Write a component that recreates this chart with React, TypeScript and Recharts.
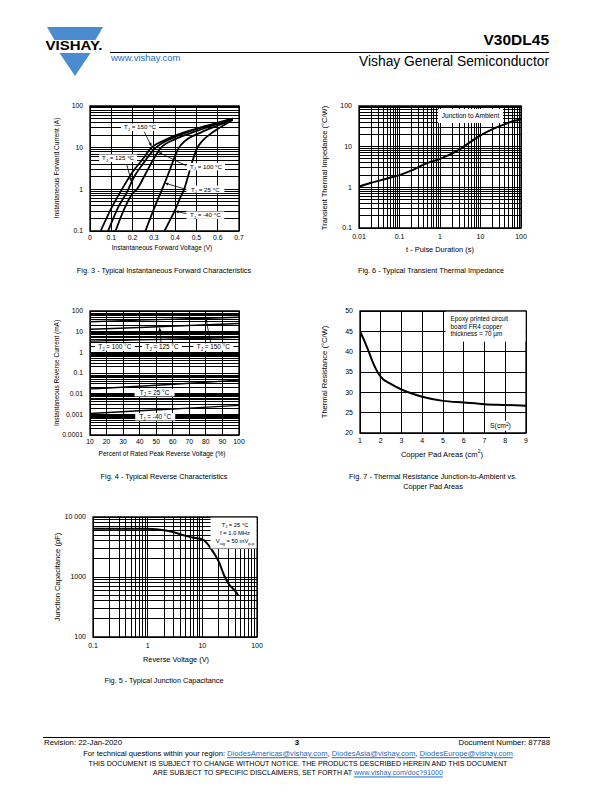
import React from "react"
import {
  LineChart,
  Line,
  XAxis,
  YAxis,
  CartesianGrid,
  ReferenceArea,
  ReferenceLine,
  ReferenceDot,
} from "recharts"

const FONT = '"Liberation Sans", Arial, Helvetica, sans-serif'
const BLUE = "#4a8ccf"
const LINK = "#1f6cc1"

// Fig. 3 - forward characteristics, voltage (V) and current (A) per junction temp
const fwdV150 = [0.05, 0.1, 0.15, 0.2, 0.25, 0.28, 0.35, 0.45, 0.55, 0.67]
const fwdI150 = [0.1, 0.35, 1.0, 2.6, 5.5, 9, 15, 24, 34, 50]
const fwdV125 = [0.085, 0.13, 0.18, 0.2, 0.25, 0.3, 0.4, 0.5, 0.6, 0.67]
const fwdI125 = [0.1, 0.35, 1.0, 1.7, 4.2, 9, 18, 28, 38, 50]
const fwdV100 = [0.12, 0.16, 0.2, 0.22, 0.26, 0.3, 0.33, 0.4, 0.5, 0.6, 0.67]
const fwdI100 = [0.1, 0.33, 0.8, 1.0, 2.3, 5.5, 9.5, 16, 25, 37, 48]
const fwdV25 = [0.26, 0.29, 0.32, 0.345, 0.37, 0.395, 0.415, 0.45, 0.52, 0.6, 0.67]
const fwdI25 = [0.1, 0.25, 0.6, 1.2, 2.5, 5.5, 9.5, 15, 23, 34, 47]
const fwdVm40 = [0.35, 0.38, 0.4, 0.425, 0.445, 0.46, 0.48, 0.5, 0.53, 0.58, 0.63, 0.67]
const fwdIm40 = [0.1, 0.2, 0.32, 0.65, 1.1, 2, 4.5, 9, 15, 24, 35, 46]
const fwdVTicks = [0, 0.1, 0.2, 0.3, 0.4, 0.5, 0.6, 0.7]
const fwdIMajor = [0.1, 1, 10, 100]
const fwdILabels = ["0.1", "1", "10", "100"]

// Fig. 6 - transient thermal impedance
const zthT = [0.01, 0.02, 0.03, 0.05, 0.1, 0.2, 0.3, 0.5, 1, 2, 3, 5, 10, 20, 30, 50, 100]
const zthZ = [1.04, 1.3, 1.44, 1.65, 2.0, 2.6, 3.2, 4.0, 5.0, 6.8, 8.5, 12, 19, 27, 32, 39, 47]
const zthTMajor = [0.01, 0.1, 1, 10, 100]
const zthTLabels = ["0.01", "0.1", "1", "10", "100"]
const zthZMajor = [0.1, 1, 10, 100]
const zthZLabels = ["0.1", "1", "10", "100"]

// Fig. 4 - reverse characteristics, % of rated voltage and current (mA)
const revPct = [10, 40, 70, 100]
const ir150 = [30, 36, 42, 50]
const ir125 = [13, 16, 20, 25]
const ir100 = [3.5, 4, 4.6, 5.3]
const ir25 = [0.017, 0.023, 0.032, 0.045]
const irM40 = [0.0011, 0.0015, 0.002, 0.0027]
const revPctTicks = [10, 20, 30, 40, 50, 60, 70, 80, 90, 100]
const revMajor = [0.0001, 0.001, 0.01, 0.1, 1, 10, 100]
const revLabels = ["0.0001", "0.001", "0.01", "0.1", "1", "10", "100"]

// Fig. 7 - thermal resistance vs copper pad area
const padArea = [1, 1.2, 1.4, 1.6, 1.8, 2, 2.5, 3, 3.5, 4, 5, 6, 7, 8, 9]
const padRth = [45, 42.8, 40.3, 37.6, 35.4, 33.8, 32, 30.7, 29.7, 28.9, 27.9, 27.5, 27.1, 26.9, 26.7]
const padTicks = [1, 2, 3, 4, 5, 6, 7, 8, 9]
const rthTicks = [20, 25, 30, 35, 40, 45, 50]

// Fig. 5 - junction capacitance
const cjV = [0.1, 0.2, 0.5, 1, 2, 3, 5, 7, 10, 12, 15, 20, 25, 30, 40, 45]
const cjC = [6400, 6400, 6400, 6350, 6000, 5550, 4850, 4500, 4250, 3700, 2800, 1800, 1070, 780, 580, 500]
const cjVMajor = [0.1, 1, 10, 100]
const cjVLabels = ["0.1", "1", "10", "100"]
const cjCMajor = [100, 1000, 10000]
const cjCLabels = ["100", "1000", "10 000"]

const YW = 50
const XH = 30
const PT = 6
const PR = 14

type Box = { x: number; y: number; w: number; h: number }

function logSteps(lo: number, hi: number) {
  const out: number[] = []
  const e0 = Math.round(Math.log10(lo))
  const e1 = Math.round(Math.log10(hi))
  for (let e = e0; e < e1; e++) {
    for (let m = 1; m < 10; m++) out.push(Number((m * Math.pow(10, e)).toPrecision(6)))
  }
  out.push(hi)
  return out
}

function labelOf(majors: number[], labels: string[]) {
  return (v: number) => {
    const k = majors.findIndex((m) => Math.abs(v - m) <= m * 1e-6)
    return k < 0 ? "" : labels[k]
  }
}

function pts(xs: number[], ys: number[]) {
  return xs.map((x, k) => ({ x, y: ys[k] }))
}

const tickFont = (fs: number) => ({ fontSize: fs, fill: "#000", fontFamily: FONT })

function tj(t: string, fs: number) {
  return [
    <React.Fragment key="t">T</React.Fragment>,
    <tspan key="j" fontSize={fs * 0.7} dy={fs * 0.25}>J</tspan>,
    <tspan key="r" dy={-fs * 0.25}>{` = ${t} °C`}</tspan>,
  ]
}

function tagShape(content: React.ReactNode, w: number, h: number, fs: number) {
  return (p: any) => (
    <g>
      <rect x={p.cx - w / 2} y={p.cy - h / 2} width={w} height={h} fill="#fff" />
      <text x={p.cx} y={p.cy} dy={fs * 0.35} textAnchor="middle" fontSize={fs} fill="#000">
        {content}
      </text>
    </g>
  )
}

function noteShape(lines: React.ReactNode[], w: number, h: number, fs: number, gap: number, dx: number, anchor: "start" | "middle") {
  return (p: any) => (
    <g>
      <rect x={p.cx - w / 2} y={p.cy - h / 2} width={w} height={h} fill="#fff" />
      {lines.map((l, k) => (
        <text
          key={k}
          x={p.cx + dx}
          y={p.cy + (k - (lines.length - 1) / 2) * gap}
          dy={fs * 0.35}
          textAnchor={anchor}
          fontSize={fs}
          fill="#000"
        >
          {l}
        </text>
      ))}
    </g>
  )
}

function Arrow(p: any) {
  const { x1, y1, x2, y2 } = p
  const a = Math.atan2(y2 - y1, x2 - x1)
  const L = 4
  const W = 1.5
  const bx = x2 - L * Math.cos(a)
  const by = y2 - L * Math.sin(a)
  const px = -Math.sin(a) * W
  const py = Math.cos(a) * W
  return (
    <g>
      <line x1={x1} y1={y1} x2={bx} y2={by} stroke="#000" strokeWidth={0.8} />
      <polygon points={`${x2},${y2} ${bx + px},${by + py} ${bx - px},${by - py}`} fill="#000" />
    </g>
  )
}

function Plot({ box, children }: { box: Box; children: React.ReactNode }) {
  return (
    <div style={{ position: "absolute", left: box.x - YW, top: box.y - PT }}>
      <LineChart
        width={box.w + YW + PR}
        height={box.h + PT + XH}
        margin={{ top: PT, right: PR, left: 0, bottom: 0 }}
      >
        {children}
      </LineChart>
    </div>
  )
}

function Txt({
  x,
  y,
  size,
  align = "center",
  bold,
  rotate,
  color = "#000",
  children,
}: {
  x: number
  y: number
  size: number
  align?: "left" | "center" | "right"
  bold?: boolean
  rotate?: boolean
  color?: string
  children: React.ReactNode
}) {
  const tx = align === "center" ? "-50%" : align === "right" ? "-100%" : "0"
  return (
    <div
      style={{
        position: "absolute",
        left: x,
        top: y,
        transform: `translate(${tx},-50%)${rotate ? " rotate(-90deg)" : ""}`,
        fontSize: size,
        lineHeight: 1,
        fontWeight: bold ? "bold" : "normal",
        whiteSpace: "nowrap",
        color,
      }}
    >
      {children}
    </div>
  )
}

const Link = ({ children }: { children: React.ReactNode }) => (
  <span style={{ color: LINK, textDecoration: "underline" }}>{children}</span>
)

const Grid = () => <CartesianGrid stroke="#000" strokeWidth={1} shapeRendering="crispEdges" />

const fwdCurves = [
  { key: "150", v: fwdV150, i: fwdI150 },
  { key: "125", v: fwdV125, i: fwdI125 },
  { key: "100", v: fwdV100, i: fwdI100 },
  { key: "25", v: fwdV25, i: fwdI25 },
  { key: "-40", v: fwdVm40, i: fwdIm40 },
]

const fwdTags = [
  { t: "150", x: 0.235, y: 31, from: [0.255, 24], to: [0.29, 10.5] },
  { t: "125", x: 0.132, y: 5.6, from: [0.172, 4], to: [0.195, 1.5] },
  { t: "100", x: 0.545, y: 3.5, from: [0.452, 3.7], to: [0.32, 7.8] },
  { t: "25", x: 0.542, y: 1.0, from: [0.452, 1.0], to: [0.35, 1.42] },
  { t: "-40", x: 0.542, y: 0.24, from: [0.455, 0.26], to: [0.398, 0.3] },
]

function ForwardChart() {
  const box = { x: 90, y: 106, w: 149, h: 125 }
  return (
    <Plot box={box}>
      {Grid()}
      <XAxis
        dataKey="x"
        type="number"
        domain={[0, 0.7]}
        ticks={fwdVTicks}
        interval={0}
        allowDataOverflow
        height={XH}
        tick={tickFont(6.8)}
        tickLine={false}
        axisLine={false}
        tickSize={2}
        tickMargin={2}
      />
      <YAxis
        type="number"
        scale="log"
        domain={[0.1, 100]}
        ticks={logSteps(0.1, 100)}
        interval={0}
        allowDataOverflow
        width={YW}
        tickFormatter={labelOf(fwdIMajor, fwdILabels)}
        tick={tickFont(6.8)}
        tickLine={false}
        axisLine={false}
        tickSize={4}
        tickMargin={3}
      />
      <ReferenceArea x1={0} x2={0.7} y1={0.1} y2={100} fill="none" stroke="#000" strokeWidth={1.3} ifOverflow="visible" />
      {fwdCurves.map((c) => (
        <Line
          key={c.key}
          data={pts(c.v, c.i)}
          dataKey="y"
          type="monotone"
          stroke="#000"
          strokeWidth={1.8}
          dot={false}
          isAnimationActive={false}
        />
      ))}
      {fwdTags.map((g) => (
        <ReferenceDot key={"t" + g.t} x={g.x} y={g.y} r={1} ifOverflow="visible" shape={tagShape(tj(g.t, 6.2), 38, 7.5, 6.2)} />
      ))}
      {fwdTags.map((g) => (
        <ReferenceLine
          key={"a" + g.t}
          segment={[
            { x: g.from[0], y: g.from[1] },
            { x: g.to[0], y: g.to[1] },
          ]}
          ifOverflow="visible"
          shape={Arrow}
        />
      ))}
    </Plot>
  )
}

function ZthChart() {
  const box = { x: 359, y: 106, w: 162, h: 122 }
  return (
    <Plot box={box}>
      {Grid()}
      <XAxis
        dataKey="x"
        type="number"
        scale="log"
        domain={[0.01, 100]}
        ticks={logSteps(0.01, 100)}
        interval={0}
        allowDataOverflow
        height={XH}
        tickFormatter={labelOf(zthTMajor, zthTLabels)}
        tick={tickFont(7)}
        tickLine={false}
        axisLine={false}
        tickSize={4}
        tickMargin={2}
      />
      <YAxis
        type="number"
        scale="log"
        domain={[0.1, 100]}
        ticks={logSteps(0.1, 100)}
        interval={0}
        allowDataOverflow
        width={YW}
        tickFormatter={labelOf(zthZMajor, zthZLabels)}
        tick={tickFont(7)}
        tickLine={false}
        axisLine={false}
        tickSize={4}
        tickMargin={3}
      />
      <ReferenceArea x1={0.01} x2={100} y1={0.1} y2={100} fill="none" stroke="#000" strokeWidth={1.3} ifOverflow="visible" />
      <ReferenceDot x={5.66} y={56.7} r={1} ifOverflow="visible" shape={tagShape("Junction to Ambient", 65, 14, 6.6)} />
      <Line
        data={pts(zthT, zthZ)}
        dataKey="y"
        type="monotone"
        stroke="#000"
        strokeWidth={2}
        dot={false}
        isAnimationActive={false}
      />
    </Plot>
  )
}

const revCurves = [
  { key: "150", i: ir150 },
  { key: "125", i: ir125 },
  { key: "100", i: ir100 },
  { key: "25", i: ir25 },
  { key: "-40", i: irM40 },
]

const revTags = [
  { t: "100", x: 25, y: 1.8 },
  { t: "125", x: 53.5, y: 1.8 },
  { t: "150", x: 84.5, y: 1.8 },
  { t: "25", x: 49, y: 0.0112 },
  { t: "-40", x: 49.4, y: 0.00076 },
]

const revArrows = [
  { key: "125", from: [53, 2.6], to: [52, 16.5] },
  { key: "150", from: [83, 2.6], to: [80, 43] },
]

function ReverseChart() {
  const box = { x: 90, y: 311, w: 149, h: 124 }
  return (
    <Plot box={box}>
      {Grid()}
      <XAxis
        dataKey="x"
        type="number"
        domain={[10, 100]}
        ticks={revPctTicks}
        interval={0}
        allowDataOverflow
        height={XH}
        tick={tickFont(6.8)}
        tickLine={false}
        axisLine={false}
        tickSize={2}
        tickMargin={2}
      />
      <YAxis
        type="number"
        scale="log"
        domain={[0.0001, 100]}
        ticks={logSteps(0.0001, 100)}
        interval={0}
        allowDataOverflow
        width={YW}
        tickFormatter={labelOf(revMajor, revLabels)}
        tick={tickFont(6.8)}
        tickLine={false}
        axisLine={false}
        tickSize={4}
        tickMargin={3}
      />
      <ReferenceArea x1={10} x2={100} y1={0.0001} y2={100} fill="none" stroke="#000" strokeWidth={1.3} ifOverflow="visible" />
      {revCurves.map((c) => (
        <Line
          key={c.key}
          data={pts(revPct, c.i)}
          dataKey="y"
          type="monotone"
          stroke="#000"
          strokeWidth={1.4}
          dot={false}
          isAnimationActive={false}
        />
      ))}
      {revTags.map((g) => (
        <ReferenceDot key={"t" + g.t} x={g.x} y={g.y} r={1} ifOverflow="visible" shape={tagShape(tj(g.t, 6.4), 40, 7.5, 6.4)} />
      ))}
      {revArrows.map((g) => (
        <ReferenceLine
          key={"a" + g.key}
          segment={[
            { x: g.from[0], y: g.from[1] },
            { x: g.to[0], y: g.to[1] },
          ]}
          ifOverflow="visible"
          shape={Arrow}
        />
      ))}
    </Plot>
  )
}

function PadChart() {
  const box = { x: 360, y: 311, w: 166, h: 122 }
  return (
    <Plot box={box}>
      {Grid()}
      <XAxis
        dataKey="x"
        type="number"
        domain={[1, 9]}
        ticks={padTicks}
        interval={0}
        allowDataOverflow
        height={XH}
        tick={tickFont(7)}
        tickLine={false}
        axisLine={false}
        tickSize={3}
        tickMargin={2}
      />
      <YAxis
        type="number"
        domain={[20, 50]}
        ticks={rthTicks}
        interval={0}
        allowDataOverflow
        width={YW}
        tick={tickFont(7)}
        tickLine={false}
        axisLine={false}
        tickSize={4}
        tickMargin={3}
      />
      <ReferenceArea x1={1} x2={9} y1={20} y2={50} fill="none" stroke="#000" strokeWidth={1.3} ifOverflow="visible" />
      <ReferenceDot
        x={7.05}
        y={46.15}
        r={1}
        ifOverflow="visible"
        shape={noteShape(
          ["Epoxy printed circuit", "board FR4 copper", "thickness = 70 µm"],
          80,
          30,
          6.4,
          7.6,
          -35,
          "start"
        )}
      />
      <ReferenceDot
        x={7.77}
        y={21.8}
        r={1}
        ifOverflow="visible"
        shape={tagShape(
          [
            <React.Fragment key="s">S(cm</React.Fragment>,
            <tspan key="2" fontSize={4.8} dy={-2.5}>2</tspan>,
            <tspan key="p" dy={2.5}>)</tspan>,
          ],
          28,
          10,
          6.8
        )}
      />
      <Line
        data={pts(padArea, padRth)}
        dataKey="y"
        type="monotone"
        stroke="#000"
        strokeWidth={2}
        dot={false}
        isAnimationActive={false}
      />
    </Plot>
  )
}

function CapChart() {
  const box = { x: 93, y: 517, w: 164, h: 120 }
  const fs = 5.8
  return (
    <Plot box={box}>
      {Grid()}
      <XAxis
        dataKey="x"
        type="number"
        scale="log"
        domain={[0.1, 100]}
        ticks={logSteps(0.1, 100)}
        interval={0}
        allowDataOverflow
        height={XH}
        tickFormatter={labelOf(cjVMajor, cjVLabels)}
        tick={tickFont(7)}
        tickLine={false}
        axisLine={false}
        tickSize={4}
        tickMargin={2}
      />
      <YAxis
        type="number"
        scale="log"
        domain={[100, 10000]}
        ticks={logSteps(100, 10000)}
        interval={0}
        allowDataOverflow
        width={YW}
        tickFormatter={labelOf(cjCMajor, cjCLabels)}
        tick={tickFont(7)}
        tickLine={false}
        axisLine={false}
        tickSize={4}
        tickMargin={3}
      />
      <ReferenceArea x1={0.1} x2={100} y1={100} y2={10000} fill="none" stroke="#000" strokeWidth={1.3} ifOverflow="visible" />
      <ReferenceDot
        x={37.2}
        y={5400}
        r={1}
        ifOverflow="visible"
        shape={noteShape(
          [
            tj("25", fs),
            "f = 1.0 MHz",
            [
              <React.Fragment key="v">V</React.Fragment>,
              <tspan key="s" fontSize={fs * 0.7} dy={fs * 0.25}>sig</tspan>,
              <tspan key="e" dy={-fs * 0.25}> = 50 mV</tspan>,
              <tspan key="p" fontSize={fs * 0.7} dy={fs * 0.25}>p-p</tspan>,
            ],
          ],
          46,
          31,
          fs,
          8.3,
          1.5,
          "middle"
        )}
      />
      <Line
        data={pts(cjV, cjC)}
        dataKey="y"
        type="monotone"
        stroke="#000"
        strokeWidth={2}
        dot={false}
        isAnimationActive={false}
      />
    </Plot>
  )
}

function Header() {
  return (
    <>
      <svg width={595} height={90} style={{ position: "absolute", left: 0, top: 0 }}>
        <polygon points="47,27 103,27 95.5,40 54.5,40" fill={BLUE} />
        <polygon points="59.5,53 90.5,53 75,76" fill={BLUE} />
        <text x={45.5} y={50.3} fontSize={13.5} fontWeight="bold" textLength={57} lengthAdjust="spacingAndGlyphs" fill="#000">
          VISHAY.
        </text>
        <line x1={110} y1={52.5} x2={549} y2={52.5} stroke="#000" strokeWidth={1} />
      </svg>
      <Txt x={111} y={58} size={9.5} align="left" color={LINK}>www.vishay.com</Txt>
      <Txt x={549} y={40} size={15.5} align="right" bold>V30DL45</Txt>
      <Txt x={549} y={62} size={13.8} align="right">Vishay General Semiconductor</Txt>
    </>
  )
}

function Footer() {
  return (
    <>
      <div style={{ position: "absolute", left: 43, top: 736.5, width: 507, height: 1, background: "#000" }} />
      <Txt x={44} y={743} size={7.8} align="left">Revision: 22-Jan-2020</Txt>
      <Txt x={297} y={743} size={7.8} bold>3</Txt>
      <Txt x={550} y={743} size={7.8} align="right">Document Number: 87788</Txt>
      <Txt x={298} y={754} size={7.6}>
        For technical questions within your region: <Link>DiodesAmericas@vishay.com</Link>,{" "}
        <Link>DiodesAsia@vishay.com</Link>, <Link>DiodesEurope@vishay.com</Link>
      </Txt>
      <Txt x={298} y={765} size={7.1}>
        THIS DOCUMENT IS SUBJECT TO CHANGE WITHOUT NOTICE. THE PRODUCTS DESCRIBED HEREIN AND THIS DOCUMENT
      </Txt>
      <Txt x={298} y={774} size={7.1}>
        ARE SUBJECT TO SPECIFIC DISCLAIMERS, SET FORTH AT <Link>www.vishay.com/doc?91000</Link>
      </Txt>
    </>
  )
}

export default function App() {
  return (
    <div
      style={{
        position: "absolute",
        left: 0,
        top: 0,
        width: 595,
        height: 792,
        background: "#fff",
        fontFamily: FONT,
        color: "#000",
        overflow: "hidden",
      }}
    >
      <Header />

      <ForwardChart />
      <Txt x={57} y={168} size={6.5} rotate>Instantaneous Forward Current (A)</Txt>
      <Txt x={162} y={248} size={6.5}>Instantaneous Forward Voltage (V)</Txt>
      <Txt x={164} y={271} size={7.3}>Fig. 3 - Typical Instantaneous Forward Characteristics</Txt>

      <ZthChart />
      <Txt x={325} y={168} size={7.5} rotate>Transient Thermal Impedance (°C/W)</Txt>
      <Txt x={440} y={250} size={7.4}>t - Pulse Duration (s)</Txt>
      <Txt x={431} y={271} size={7.3}>Fig. 6 - Typical Transient Thermal Impedance</Txt>

      <ReverseChart />
      <Txt x={57} y={373} size={6.5} rotate>Instantaneous Reverse Current (mA)</Txt>
      <Txt x={162} y={454} size={6.5}>Percent of Rated Peak Reverse Voltage (%)</Txt>
      <Txt x={164} y={477} size={7.3}>Fig. 4 - Typical Reverse Characteristics</Txt>

      <PadChart />
      <Txt x={325} y={372} size={7.6} rotate>Thermal Resistance (°C/W)</Txt>
      <Txt x={442} y={454} size={7.6}>
        Copper Pad Areas (cm<sup style={{ fontSize: 5.2 }}>2</sup>)
      </Txt>
      <Txt x={433} y={477} size={7.3}>Fig. 7 - Thermal Resistance Junction-to-Ambient vs.</Txt>
      <Txt x={433} y={487} size={7.3}>Copper Pad Areas</Txt>

      <CapChart />
      <Txt x={58} y={577} size={7.6} rotate>Junction Capacitance (pF)</Txt>
      <Txt x={176} y={660} size={7.4}>Reverse Voltage (V)</Txt>
      <Txt x={164} y={681} size={7.3}>Fig. 5 - Typical Junction Capacitance</Txt>

      <Footer />
    </div>
  )
}
